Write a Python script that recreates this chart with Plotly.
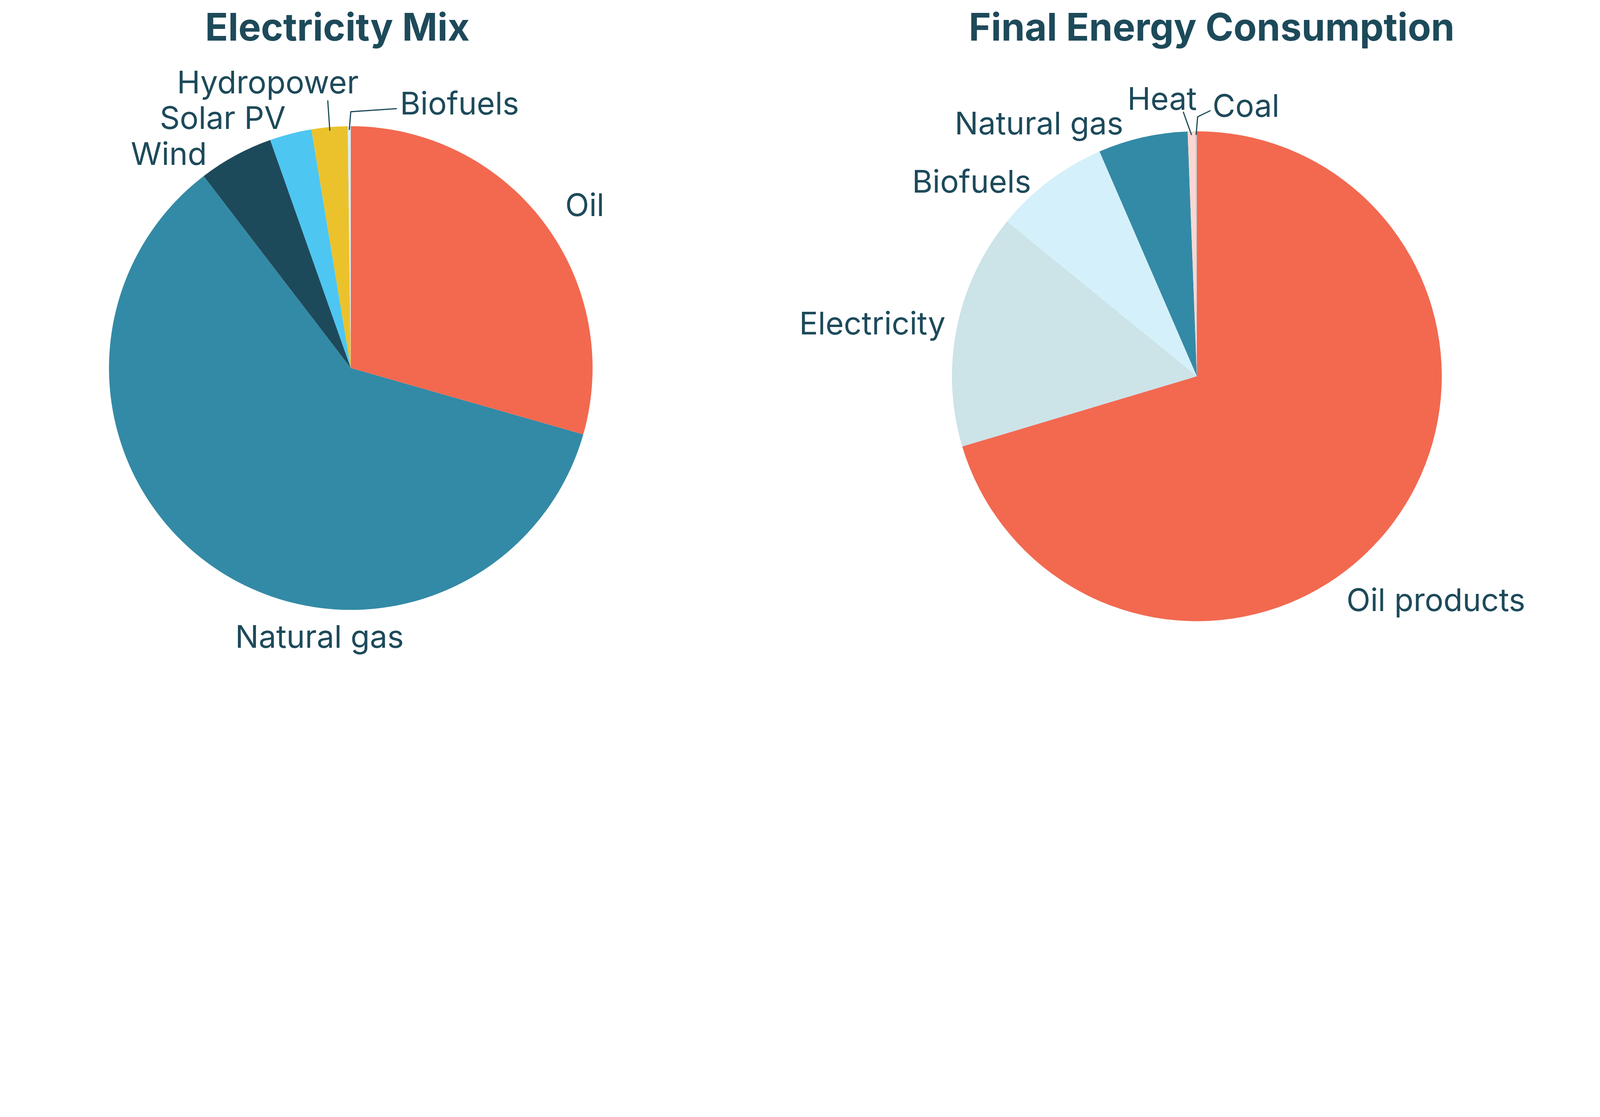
import math
import plotly.graph_objects as go

# electricity mix (share, %)
elec_labels = ["Oil", "Natural gas", "Wind", "Solar PV", "Hydropower", "Biofuels"]
elec_values = [29.4, 60.1, 5.0, 2.8, 2.4, 0.2]
elec_colors = ["#F26950", "#338AA6", "#1D4A5A", "#4DC6F2", "#EBC22B", "#D4F0FA"]

# final energy consumption (share, %)
fec_labels = ["Oil products", "Electricity", "Biofuels", "Natural gas", "Heat", "Coal"]
fec_values = [70.3, 15.5, 7.6, 5.9, 0.5, 0.1]
fec_colors = ["#F26950", "#CCE3E8", "#D4F0FA", "#338AA6", "#FAD7D2", "#C8CDCF"]

titles = ["Electricity Mix", "Final Energy Consumption"]

TXT = "#1D4A5A"
FONT = "Inter, Noto Sans, sans-serif"
W, H = 4082, 1790

# pie geometry in px: centre x, centre y, radius
pies = [(890, 934, 619), (3056, 955, 627)]

# label placement (px from top-left) and anchor
elec_lab_pos = [(1437, 515, "left"), (810, 1620, "center"), (523, 384, "right"),
                (726, 293, "right"), (912, 201, "right"), (1014, 256, "left")]
fec_lab_pos = [(3437, 1526, "left"), (2415, 818, "right"), (2634, 455, "right"),
               (2870, 306, "right"), (3058, 243, "right"), (3094, 261, "left")]

# leader line bends (px) for the small slices, from label side towards slice
elec_leaders = {"Hydropower": [(831, 249)], "Biofuels": [(1008, 270), (890, 278)]}
fec_leaders = {"Heat": [(3021, 278)], "Coal": [(3091, 275), (3058, 291)]}


def px2paper(x, y):
    return x / W, 1 - y / H


fig = go.Figure()

for (cx, cy, r), labels, values, colors in [
    (pies[0], elec_labels, elec_values, elec_colors),
    (pies[1], fec_labels, fec_values, fec_colors),
]:
    fig.add_trace(go.Pie(
        labels=labels,
        values=values,
        marker=dict(colors=colors, line=dict(width=0)),
        sort=False,
        direction="clockwise",
        rotation=0,
        textinfo="none",
        hoverinfo="label+percent",
        domain=dict(x=[(cx - r - 150) / W, (cx + r + 150) / W],
                    y=[1 - (cy + r) / H, 1 - (cy - r) / H]),
        showlegend=False,
    ))

# slice labels and leader lines
for (cx, cy, r), labels, values, pos, leaders in [
    (pies[0], elec_labels, elec_values, elec_lab_pos, elec_leaders),
    (pies[1], fec_labels, fec_values, fec_lab_pos, fec_leaders),
]:
    total = sum(values)
    cum = 0
    for lab, v, (lx, ly, anc) in zip(labels, values, pos):
        mid = 2 * math.pi * (cum + v / 2) / total
        cum += v
        px_, py_ = px2paper(lx, ly)
        fig.add_annotation(
            text=lab, x=px_, y=py_, xref="paper", yref="paper",
            xanchor=anc, yanchor="middle", showarrow=False,
            font=dict(family=FONT, size=80, color=TXT),
        )
        if lab in leaders:
            pts = leaders[lab] + [(cx + 0.985 * r * math.sin(mid), cy - 0.985 * r * math.cos(mid))]
            path = ""
            for i, (x, y) in enumerate(pts):
                xp, yp = px2paper(x, y)
                path += ("M" if i == 0 else " L") + f" {xp:.5f},{yp:.5f}"
            fig.add_shape(type="path", path=path, xref="paper", yref="paper",
                          line=dict(color=TXT, width=3))

# titles above each pie
for xc, t in zip([855, 3094], titles):
    fig.add_annotation(
        text="<b>" + t + "</b>",
        x=xc / W, y=1,
        xref="paper", yref="paper",
        xanchor="center", yanchor="top",
        showarrow=False,
        font=dict(family=FONT, size=97, color=TXT, weight=800),
    )

fig.update_layout(
    width=W,
    height=H,
    margin=dict(l=0, r=0, t=0, b=0),
    paper_bgcolor="white",
    plot_bgcolor="white",
)

fig.write_html("out.html")
